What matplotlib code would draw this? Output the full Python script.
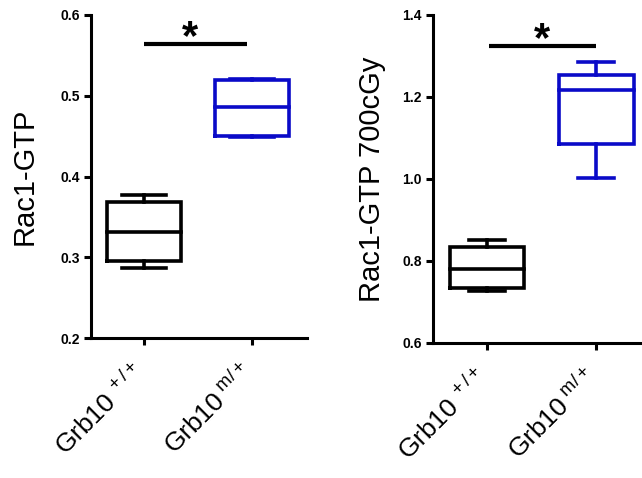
import matplotlib
matplotlib.use("Agg")
import matplotlib.pyplot as plt
from matplotlib.transforms import ScaledTranslation

plt.rcParams['font.family'] = ['Liberation Sans', 'DejaVu Sans']
plt.rcParams['mathtext.fontset'] = 'custom'
plt.rcParams['mathtext.rm'] = 'Liberation Sans'
plt.rcParams['mathtext.it'] = 'Liberation Sans:italic'
plt.rcParams['mathtext.bf'] = 'Liberation Sans:bold'

# genotype groups
groups = [r"Grb10$^{\mathrm{\ +/+}}$", r"Grb10$^{\mathrm{\ m/+}}$"]
box_colors = ["#000000", "#0A0AC8"]

# Rac1-GTP (baseline): five-number summaries per genotype
base_whislo = [0.287, 0.449]
base_q1 = [0.295, 0.450]
base_med = [0.331, 0.486]
base_q3 = [0.368, 0.520]
base_whishi = [0.377, 0.521]
base_yticks = [0.2, 0.3, 0.4, 0.5, 0.6]
base_yticklabels = ["0.2", "0.3", "0.4", "0.5", "0.6"]
base_sig_y = 0.564

# Rac1-GTP after 700 cGy
irr_whislo = [0.727, 1.002]
irr_q1 = [0.734, 1.085]
irr_med = [0.780, 1.217]
irr_q3 = [0.834, 1.254]
irr_whishi = [0.851, 1.285]
irr_yticks = [0.6, 0.8, 1.0, 1.2, 1.4]
irr_yticklabels = ["0.6", "0.8", "1.0", "1.2", "1.4"]
irr_sig_y = 1.324

fig = plt.figure(figsize=(6.42, 4.78), dpi=100)
ax1 = fig.add_axes([91 / 642, 1 - 338 / 478, 216 / 642, 323 / 478])
ax2 = fig.add_axes([433 / 642, 1 - 343 / 478, 209 / 642, 328 / 478])


def draw_panel(ax, lo, q1, med, q3, hi, yticks, yticklabels, xlim,
               capw, sig_y, sig_x, star_x, star_y, ylabel, ylabel_x):
    stats = [dict(whislo=lo[i], q1=q1[i], med=med[i], q3=q3[i], whishi=hi[i])
             for i in range(len(groups))]
    art = ax.bxp(stats, positions=[0, 1], widths=0.685, capwidths=capw,
                 showfliers=False)
    for i, c in enumerate(box_colors):
        for a in [art['boxes'][i], art['medians'][i],
                  art['whiskers'][2 * i], art['whiskers'][2 * i + 1],
                  art['caps'][2 * i], art['caps'][2 * i + 1]]:
            a.set_color(c)
            a.set_linewidth(2.6)
            a.set_solid_capstyle('projecting')
            a.set_solid_joinstyle('miter')

    ax.set_xlim(*xlim)
    ax.set_ylim(yticks[0], yticks[-1])
    ax.set_yticks(yticks)
    ax.set_yticklabels(yticklabels, fontsize=10, fontweight='bold')
    ax.set_xticks([0, 1])
    for s in ['top', 'right']:
        ax.spines[s].set_visible(False)
    for s in ['left', 'bottom']:
        ax.spines[s].set_linewidth(2.2)
    ax.tick_params(axis='both', width=2.2, length=5, direction='out')
    ax.tick_params(axis='y', pad=3)
    ax.tick_params(axis='x', pad=10)
    ax.set_xticklabels(groups, rotation=45, ha='right', va='top',
                       rotation_mode='anchor', fontsize=19)
    # nudge the rotated genotype labels left of their ticks
    shift = ScaledTranslation(-0.12, 0, fig.dpi_scale_trans)
    for lab in ax.get_xticklabels():
        lab.set_transform(lab.get_transform() + shift)

    ax.plot(sig_x, [sig_y, sig_y], color='black', lw=3.0, clip_on=False,
            solid_capstyle='butt')
    ax.text(star_x, star_y, "*", ha='center', va='center',
            fontsize=30, fontweight='bold')

    ax.set_ylabel(ylabel, fontsize=21, va='center')
    ax.yaxis.set_label_coords(ylabel_x, 0.5)


draw_panel(ax1, base_whislo, base_q1, base_med, base_q3, base_whishi,
           base_yticks, base_yticklabels, (-0.49, 1.51), 0.40,
           base_sig_y, [0.0, 0.954], 0.43, 0.572, "Rac1-GTP",
           (25 - 91) / 216)
draw_panel(ax2, irr_whislo, irr_q1, irr_med, irr_q3, irr_whishi,
           irr_yticks, irr_yticklabels, (-0.495, 1.42), 0.33,
           irr_sig_y, [0.02, 1.0], 0.50, 1.340, "Rac1-GTP 700cGy",
           (372 - 433) / 209)

fig.savefig("out.png", dpi=100)
